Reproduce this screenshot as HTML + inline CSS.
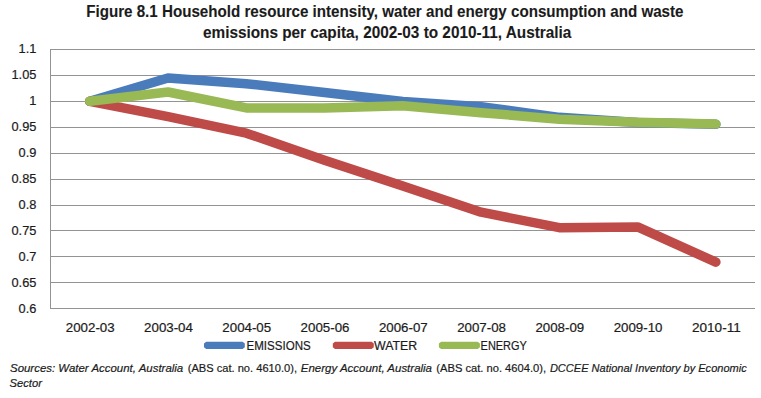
<!DOCTYPE html><html><head><meta charset="utf-8"><style>html,body{margin:0;padding:0;background:#fff;}svg{display:block;}text{font-family:"Liberation Sans",sans-serif;stroke:#1b1b1b;stroke-width:0.2px;}</style></head><body>
<svg width="761" height="398" viewBox="0 0 761 398">
<rect width="761" height="398" fill="#fff"/>
<text x="86.2" y="17" font-size="16" font-weight="bold" fill="#1b1b1b" style="stroke-width:0.1px" textLength="597.3" lengthAdjust="spacingAndGlyphs">Figure 8.1 Household resource intensity, water and energy consumption and waste</text>
<text x="203" y="38" font-size="16" font-weight="bold" fill="#1b1b1b" style="stroke-width:0.1px" textLength="368.3" lengthAdjust="spacingAndGlyphs">emissions per capita, 2002-03 to 2010-11, Australia</text>
<line x1="50" y1="49.50" x2="755" y2="49.50" stroke="#939393" stroke-width="1"/><line x1="50" y1="75.50" x2="755" y2="75.50" stroke="#939393" stroke-width="1"/><line x1="50" y1="101.50" x2="755" y2="101.50" stroke="#939393" stroke-width="1"/><line x1="50" y1="127.50" x2="755" y2="127.50" stroke="#939393" stroke-width="1"/><line x1="50" y1="153.50" x2="755" y2="153.50" stroke="#939393" stroke-width="1"/><line x1="50" y1="179.50" x2="755" y2="179.50" stroke="#939393" stroke-width="1"/><line x1="50" y1="205.50" x2="755" y2="205.50" stroke="#939393" stroke-width="1"/><line x1="50" y1="230.50" x2="755" y2="230.50" stroke="#939393" stroke-width="1"/><line x1="50" y1="256.50" x2="755" y2="256.50" stroke="#939393" stroke-width="1"/><line x1="50" y1="282.50" x2="755" y2="282.50" stroke="#939393" stroke-width="1"/><line x1="50" y1="308.50" x2="755" y2="308.50" stroke="#939393" stroke-width="1"/>
<line x1="50.5" y1="49" x2="50.5" y2="309" stroke="#939393" stroke-width="1"/>
<text x="36.4" y="52.80" font-size="12.8" fill="#1b1b1b" text-anchor="end">1.1</text>
<text x="36.4" y="78.80" font-size="12.8" fill="#1b1b1b" text-anchor="end">1.05</text>
<text x="36.4" y="104.80" font-size="12.8" fill="#1b1b1b" text-anchor="end">1</text>
<text x="36.4" y="130.80" font-size="12.8" fill="#1b1b1b" text-anchor="end">0.95</text>
<text x="36.4" y="156.80" font-size="12.8" fill="#1b1b1b" text-anchor="end">0.9</text>
<text x="36.4" y="182.80" font-size="12.8" fill="#1b1b1b" text-anchor="end">0.85</text>
<text x="36.4" y="208.80" font-size="12.8" fill="#1b1b1b" text-anchor="end">0.8</text>
<text x="36.4" y="234.80" font-size="12.8" fill="#1b1b1b" text-anchor="end">0.75</text>
<text x="36.4" y="260.80" font-size="12.8" fill="#1b1b1b" text-anchor="end">0.7</text>
<text x="36.4" y="286.80" font-size="12.8" fill="#1b1b1b" text-anchor="end">0.65</text>
<text x="36.4" y="312.80" font-size="12.8" fill="#1b1b1b" text-anchor="end">0.6</text>
<text x="90.23" y="332" font-size="12.8" fill="#1b1b1b" text-anchor="middle" textLength="48.8" lengthAdjust="spacingAndGlyphs">2002-03</text>
<text x="168.50" y="332" font-size="12.8" fill="#1b1b1b" text-anchor="middle" textLength="48.8" lengthAdjust="spacingAndGlyphs">2003-04</text>
<text x="246.77" y="332" font-size="12.8" fill="#1b1b1b" text-anchor="middle" textLength="48.8" lengthAdjust="spacingAndGlyphs">2004-05</text>
<text x="325.03" y="332" font-size="12.8" fill="#1b1b1b" text-anchor="middle" textLength="48.8" lengthAdjust="spacingAndGlyphs">2005-06</text>
<text x="403.30" y="332" font-size="12.8" fill="#1b1b1b" text-anchor="middle" textLength="48.8" lengthAdjust="spacingAndGlyphs">2006-07</text>
<text x="481.57" y="332" font-size="12.8" fill="#1b1b1b" text-anchor="middle" textLength="48.8" lengthAdjust="spacingAndGlyphs">2007-08</text>
<text x="559.83" y="332" font-size="12.8" fill="#1b1b1b" text-anchor="middle" textLength="48.8" lengthAdjust="spacingAndGlyphs">2008-09</text>
<text x="638.10" y="332" font-size="12.8" fill="#1b1b1b" text-anchor="middle" textLength="48.8" lengthAdjust="spacingAndGlyphs">2009-10</text>
<text x="716.37" y="332" font-size="12.8" fill="#1b1b1b" text-anchor="middle" textLength="48.8" lengthAdjust="spacingAndGlyphs">2010-11</text>
<polyline points="89.73,101.30 168.00,77.99 246.27,83.69 324.53,92.49 402.80,101.56 481.07,106.74 559.33,117.36 637.60,122.54 715.87,124.35" fill="none" stroke="#4A7CBB" stroke-width="9.5" stroke-linecap="round" stroke-linejoin="round"/>
<polyline points="89.73,101.30 168.00,116.58 246.27,133.16 324.53,160.35 402.80,185.99 481.07,212.15 559.33,227.69 637.60,226.92 715.87,262.14" fill="none" stroke="#BE4B48" stroke-width="9.5" stroke-linecap="round" stroke-linejoin="round"/>
<polyline points="89.73,101.30 168.00,91.98 246.27,107.88 324.53,108.03 402.80,105.70 481.07,112.70 559.33,119.17 637.60,122.23 715.87,124.09" fill="none" stroke="#98B954" stroke-width="9.5" stroke-linecap="round" stroke-linejoin="round"/>
<polygon points="206.2,341.8 242.60000000000002,341.8 244.8,343.5 244.8,347.2 242.60000000000002,348.9 206.2,348.9 204,347.2 204,343.5" fill="#4A7CBB"/>
<text x="246.5" y="349.7" font-size="12.2" fill="#1b1b1b" textLength="64.2" lengthAdjust="spacingAndGlyphs">EMISSIONS</text>
<polygon points="335.0,341.8 371.6,341.8 373.8,343.5 373.8,347.2 371.6,348.9 335.0,348.9 332.8,347.2 332.8,343.5" fill="#BE4B48"/>
<text x="374.09999999999997" y="349.7" font-size="12.2" fill="#1b1b1b" textLength="43.1" lengthAdjust="spacingAndGlyphs">WATER</text>
<polygon points="441.09999999999997,341.8 477.7,341.8 479.9,343.5 479.9,347.2 477.7,348.9 441.09999999999997,348.9 438.9,347.2 438.9,343.5" fill="#98B954"/>
<text x="480.59999999999997" y="349.7" font-size="12.2" fill="#1b1b1b" textLength="46.2" lengthAdjust="spacingAndGlyphs">ENERGY</text>
<text x="10" y="372" font-size="11.5" font-style="italic" fill="#1b1b1b" textLength="173.2" lengthAdjust="spacingAndGlyphs">Sources: Water Account, Australia</text>
<text x="187.7" y="372" font-size="11.5" fill="#1b1b1b" textLength="109.3" lengthAdjust="spacingAndGlyphs">(ABS cat. no. 4610.0),</text>
<text x="300.8" y="372" font-size="11.5" font-style="italic" fill="#1b1b1b" textLength="131.2" lengthAdjust="spacingAndGlyphs">Energy Account, Australia</text>
<text x="436.3" y="372" font-size="11.5" fill="#1b1b1b" textLength="109.7" lengthAdjust="spacingAndGlyphs">(ABS cat. no. 4604.0),</text>
<text x="549.9" y="372" font-size="11.5" font-style="italic" fill="#1b1b1b" textLength="196.8" lengthAdjust="spacingAndGlyphs">DCCEE National Inventory by Economic</text>
<text x="9.6" y="386.6" font-size="11.5" font-style="italic" fill="#1b1b1b" textLength="32.3" lengthAdjust="spacingAndGlyphs">Sector</text>
</svg></body></html>
